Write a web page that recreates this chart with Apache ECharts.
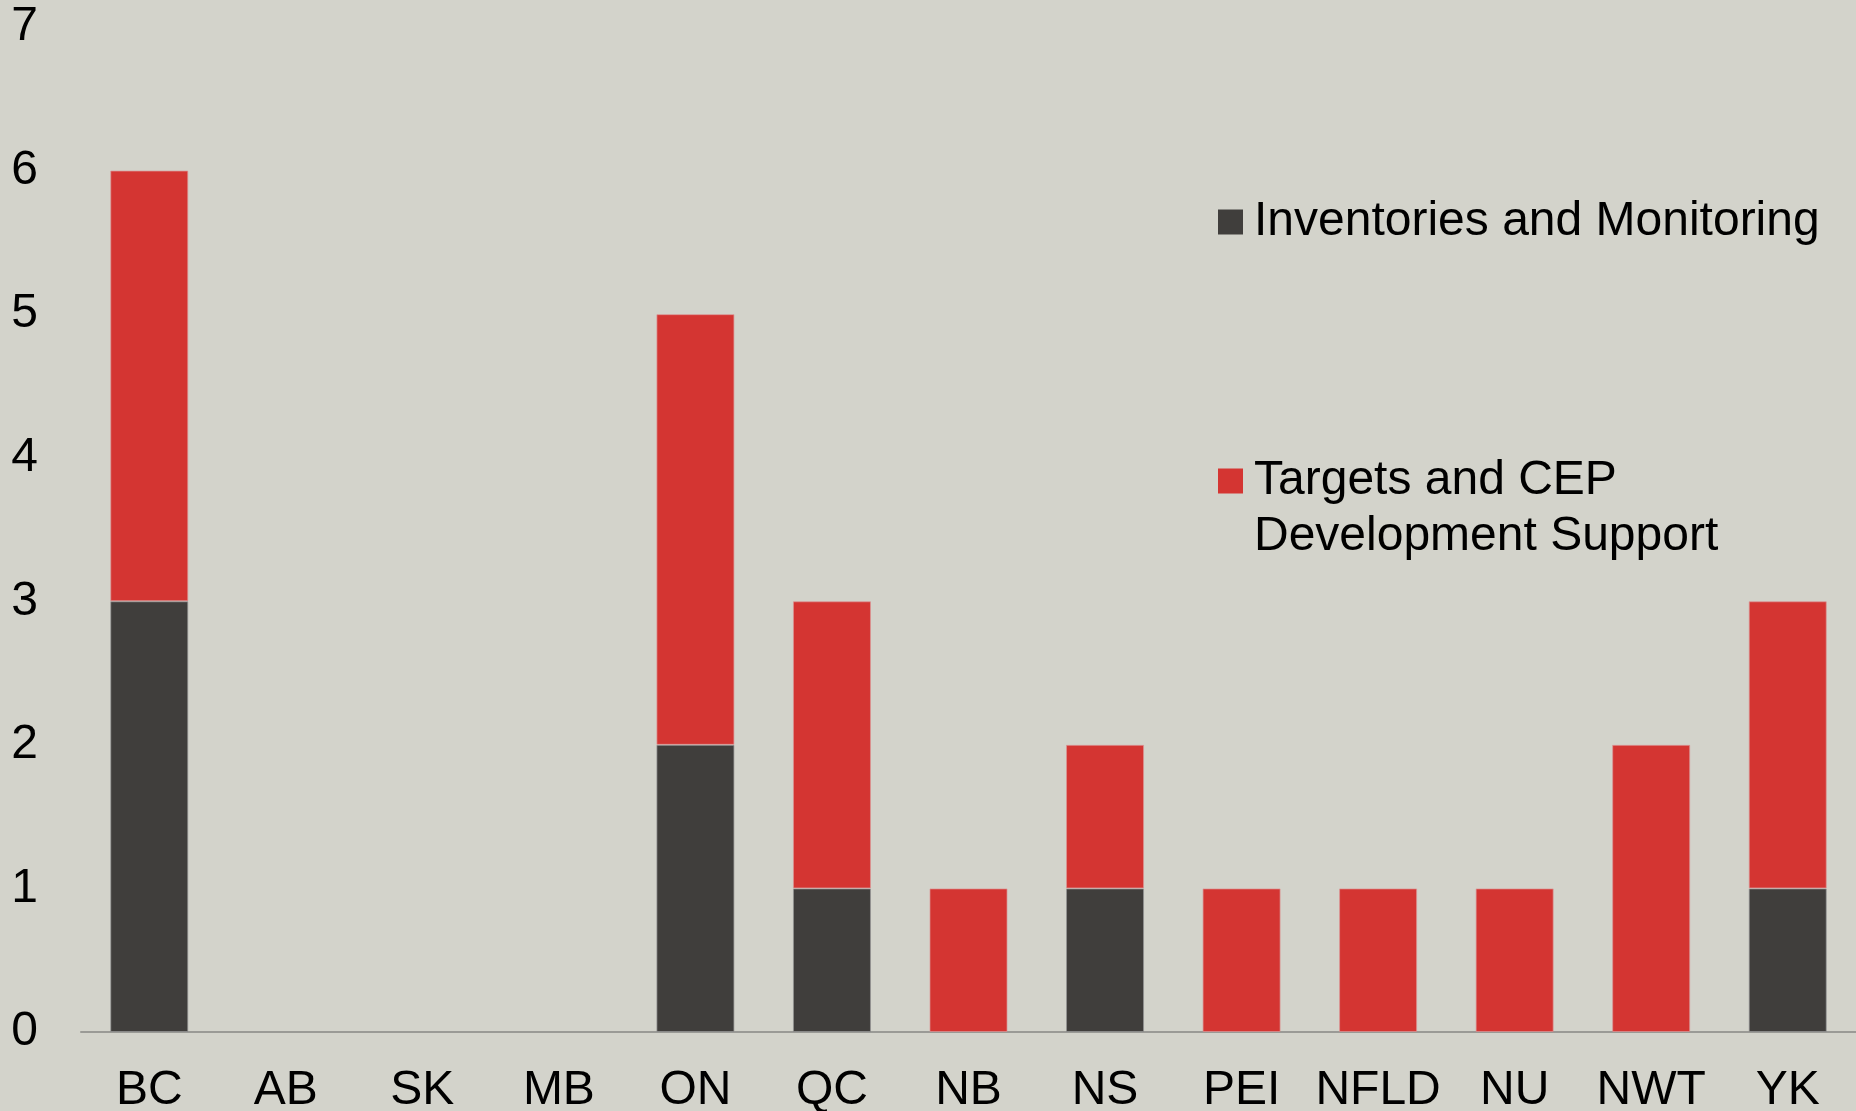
<!DOCTYPE html>
<html>
<head>
<meta charset="utf-8">
<script src="https://cdn.jsdelivr.net/npm/echarts@6/dist/echarts.min.js"></script>
<style>
html,body{margin:0;padding:0;background:#d3d3cb;}
#chart{width:1856px;height:1111px;}
</style>
</head>
<body>
<div id="chart"></div>
<script>
const categories = ['BC','AB','SK','MB','ON','QC','NB','NS','PEI','NFLD','NU','NWT','YK'];
const seriesNames = ['Inventories and Monitoring', 'Targets and CEP\nDevelopment Support'];
const inventoriesValues = [3,0,0,0,2,1,0,1,0,0,0,0,1];
const targetsValues = [3,0,0,0,3,2,1,1,1,1,1,2,2];
const yTicks = [0,1,2,3,4,5,6,7];

// zero-height segments are simply not drawn
const asBars = arr => arr.map(v => (v === 0 ? '-' : v));

const FONT = '"Liberation Sans", Arial, Helvetica, sans-serif';
const chart = echarts.init(document.getElementById('chart'), null, {renderer:'canvas'});
chart.setOption({
  backgroundColor: '#d3d3cb',
  animation: false,
  grid: {left: 81, right: 0, top: 27, bottom: 79, containLabel: false, outerBoundsMode: 'none'},
  legend: [
    {
      data: [seriesNames[0]],
      orient: 'vertical',
      left: 1218, top: 194, padding: 0,
      itemWidth: 25, itemHeight: 25,
      icon: 'rect',
      itemStyle: {borderWidth: 0},
      textStyle: {fontFamily: FONT, fontSize: 48, color: '#000', lineHeight: 56, padding: [0,0,0,6]}
    },
    {
      data: [seriesNames[1]],
      orient: 'vertical',
      left: 1218, top: 397, padding: 0,
      itemWidth: 25, itemHeight: 25,
      icon: 'rect',
      itemStyle: {borderWidth: 0},
      formatter: name => '\n' + name,
      textStyle: {fontFamily: FONT, fontSize: 48, color: '#000', lineHeight: 56, padding: [0,0,0,6]}
    }
  ],
  xAxis: {
    type: 'category',
    data: categories,
    axisLine: {show: true, lineStyle: {color: '#9a9a96', width: 2}},
    axisTick: {show: false},
    axisLabel: {fontFamily: FONT, fontSize: 48, color: '#000', margin: 35, lineHeight: 48, interval: 0}
  },
  yAxis: {
    type: 'value',
    min: yTicks[0], max: yTicks[yTicks.length-1], interval: 1,
    axisLine: {show: false},
    axisTick: {show: false},
    splitLine: {show: false},
    axisLabel: {fontFamily: FONT, fontSize: 48, color: '#000', margin: 43, align: 'right'}
  },
  series: [
    {
      name: seriesNames[0], type: 'bar', stack: 'total', barWidth: 78,
      data: asBars(inventoriesValues),
      itemStyle: {color: '#403e3c', borderColor: 'rgba(150,150,150,0.7)', borderWidth: 1}
    },
    {
      name: seriesNames[1], type: 'bar', stack: 'total', barWidth: 78,
      data: asBars(targetsValues),
      itemStyle: {color: '#d43532', borderColor: 'rgba(220,150,150,0.7)', borderWidth: 1}
    }
  ]
});
</script>
</body>
</html>
